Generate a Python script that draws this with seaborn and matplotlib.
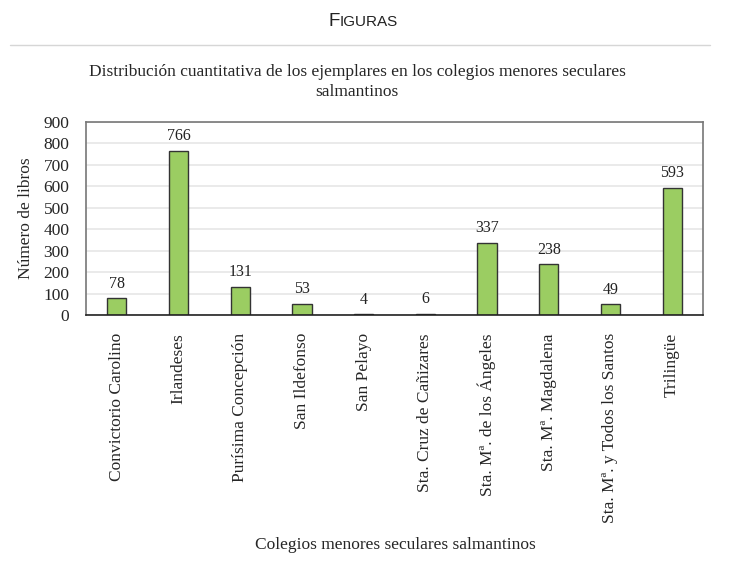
import pandas as pd
import seaborn as sns
from matplotlib import pyplot as plt
from matplotlib.lines import Line2D

# datos
colegios = ["Convictorio Carolino", "Irlandeses", "Purísima Concepción",
            "San Ildefonso", "San Pelayo", "Sta. Cruz de Cañizares",
            "Sta. Mª. de los Ángeles", "Sta. Mª. Magdalena",
            "Sta. Mª. y Todos los Santos", "Trilingüe"]
libros = [78, 766, 131, 53, 4, 6, 337, 238, 49, 593]
yticks = [0, 100, 200, 300, 400, 500, 600, 700, 800, 900]

df = pd.DataFrame({"colegio": colegios, "libros": libros})

sns.set_style("white")
plt.rcParams['font.family'] = ['Liberation Serif', 'DejaVu Serif']

fig = plt.figure(figsize=(7.29, 5.78), dpi=100)
ax = fig.add_axes([86/729, 1 - 315/578, (703 - 86)/729, (315 - 122)/578])

sns.barplot(data=df, x="colegio", y="libros", color="#9BCD62",
            edgecolor="#333333", linewidth=1.0, width=0.31, ax=ax,
            saturation=1)

for i, v in enumerate(libros):
    ax.text(i, v + 30, str(v), ha="center", va="bottom", fontsize=11.5,
            color="#222222")

ax.set_ylim(0, 900)
ax.set_yticks(yticks)
ax.set_yticklabels([str(t) for t in yticks], fontsize=12.5)
ax.set_xlim(-0.5, len(colegios) - 0.5)
ax.set_xticks(range(len(colegios)))
ax.set_xticklabels(colegios, rotation=90, fontsize=12.5)
ax.tick_params(axis="x", length=0, pad=13)
ax.tick_params(axis="y", length=0, pad=12)
ax.yaxis.grid(True, color="#e6e6e6", linewidth=1.2)
ax.set_axisbelow(True)
for side in ["top", "right", "left"]:
    ax.spines[side].set_color("#777777")
    ax.spines[side].set_linewidth(1.2)
ax.spines["bottom"].set_color("#222222")
ax.spines["bottom"].set_linewidth(1.2)

ax.set_xlabel("")
ax.set_ylabel("Número de libros", fontsize=12.5, labelpad=7)

fig.text(395/729, 1 - 545/578, "Colegios menores seculares salmantinos",
         ha="center", va="center", fontsize=12.5)

# titulo del grafico
fig.text(357/729, 1 - 72/578,
         "Distribución cuantitativa de los ejemplares en los colegios menores seculares",
         ha="center", va="center", fontsize=12.5)
fig.text(357/729, 1 - 92/578, "salmantinos", ha="center", va="center",
         fontsize=12.5)

# cabecera "FIGURAS" en versalitas
fig.text(340/729, 1 - 26/578, "F", ha="right", va="baseline", fontsize=13.5,
         family=["Liberation Sans", "DejaVu Sans"], color="#222222")
fig.text(340/729, 1 - 26/578, "IGURAS", ha="left", va="baseline", fontsize=11,
         family=["Liberation Sans", "DejaVu Sans"], color="#222222")
fig.add_artist(Line2D([10/729, 710/729], [1 - 45/578, 1 - 45/578],
                      color="#d6d6d6", linewidth=1.0))

fig.savefig("out.png", dpi=100, facecolor="white")
